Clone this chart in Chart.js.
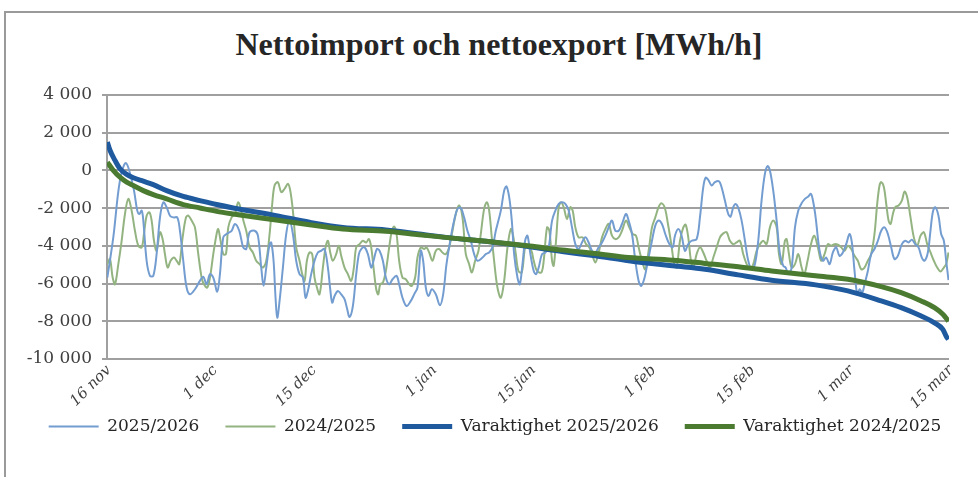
<!DOCTYPE html>
<html>
<head>
<meta charset="utf-8">
<script src="https://cdn.jsdelivr.net/npm/chart.js@4/dist/chart.umd.min.js"></script>
<style>
  body { margin: 0; background: #fff; }
  #wrap { position: relative; width: 978px; height: 477px; overflow: hidden; }
  #frame { position: absolute; left: 4px; top: 11px; width: 1100px; height: 600px;
           border-top: 2px solid #9a9a9a; border-left: 2px solid #9a9a9a; }
  #title { position: absolute; left: 0; top: 28px; width: 998px; text-align: center;
           font: bold 32px/32px 'Liberation Serif', serif; color: #262626; white-space: nowrap; }
  #chart { position: absolute; left: 0; top: 0; }
</style>
</head>
<body>
<div id="wrap">
  <div id="frame"></div>
  <div id="title">Nettoimport och nettoexport [MWh/h]</div>
  <canvas id="chart" width="978" height="477"></canvas>
</div>
<script>
// x = days after 16 nov
const tickDays   = [0, 15, 29, 46, 60, 77, 91, 105, 119];
const tickLabels = ['16 nov', '1 dec', '15 dec', '1 jan', '15 jan', '1 feb', '15 feb', '1 mar', '15 mar'];
const yTicks     = [-10000, -8000, -6000, -4000, -2000, 0, 2000, 4000];

// 2025/2026 net import/export
const days26 = [0.05,0.89,1.83,2.68,3.72,4.28,4.57,4.90,5.13,5.60,6.07,6.54,7.01,7.49,7.96,8.43,8.90,9.37,9.93,10.31,
  10.78,11.25,11.72,12.43,13.13,13.61,14.08,14.55,15.02,15.58,15.96,16.43,16.90,17.61,18.08,18.69,19.25,19.68,20.15,20.86,
  21.33,21.80,22.13,22.51,22.98,23.21,23.54,23.82,24.06,24.39,24.86,25.33,25.80,26.27,26.74,27.21,27.68,28.06,28.39,28.86,
  29.33,29.80,30.27,30.74,31.22,31.55,31.83,32.16,32.63,33.10,33.57,33.90,34.28,34.75,35.22,35.60,35.93,36.40,36.87,37.34,
  37.67,38.14,38.52,38.99,39.41,39.88,40.35,40.92,41.29,41.76,42.33,42.94,43.41,43.88,44.35,44.68,45.06,45.44,45.91,46.47,
  47.04,47.51,47.98,48.59,49.06,49.53,50.00,50.47,50.94,51.42,51.89,52.36,53.07,53.54,54.01,54.48,54.95,55.66,56.13,56.46,
  56.84,57.21,57.54,58.01,58.34,58.72,59.09,59.42,59.84,60.31,60.64,61.01,61.48,61.95,62.42,62.90,63.37,63.84,64.31,64.78,
  65.25,65.72,66.19,66.66,67.13,67.60,68.07,68.55,69.02,69.49,69.96,70.43,70.90,71.37,71.84,72.31,72.78,73.35,73.72,74.20,
  74.67,75.14,75.51,75.98,76.45,77.02,77.49,77.96,78.43,78.90,79.37,79.94,80.27,80.74,81.21,81.68,82.15,82.62,83.33,83.80,
  84.27,84.60,84.98,85.45,85.92,86.49,86.86,87.33,87.80,88.13,88.51,88.84,89.22,89.69,90.16,90.63,91.10,91.57,92.04,92.51,
  92.98,93.36,93.69,94.16,94.64,95.11,95.58,95.91,96.29,96.76,97.23,97.70,98.17,98.64,99.11,99.49,99.82,100.15,100.71,101.18,
  101.65,102.12,102.59,103.06,103.53,104.00,104.47,104.94,105.27,105.65,106.03,106.36,106.73,107.06,107.53,108.00,108.47,108.95,109.42,109.89,
  110.36,110.83,111.30,111.77,112.34,112.81,113.28,113.75,114.22,114.69,115.16,115.54,116.01,116.38,116.71,117.04,117.51,117.89,118.27,118.60,
  118.93];
const net26 = [-5680,-3550,-530,390,-890,-2130,-2310,-2130,-2660,-4790,-5590,-5590,-4440,-2490,-1690,-1950,-2400,-2490,-2490,-3200,
  -4790,-6210,-6570,-6300,-5860,-5640,-6040,-5500,-5680,-6430,-5500,-3550,-3370,-3200,-2840,-3200,-4080,-4170,-3280,-3200,
  -3460,-5150,-6120,-5150,-3910,-3820,-4790,-6750,-7810,-6920,-5150,-3370,-2660,-3370,-4790,-5500,-5680,-6750,-6390,-5500,
  -4790,-4350,-4260,-4170,-5150,-6300,-7010,-6660,-6390,-6570,-6830,-7280,-7770,-7190,-5500,-4440,-4170,-4080,-4440,-5150,
  -4790,-4170,-4260,-4790,-5680,-6040,-5770,-5590,-6040,-6750,-7190,-6920,-6570,-6210,-4260,-4790,-6210,-6660,-6300,-6570,
  -7150,-6570,-4970,-3550,-2660,-2040,-1990,-2490,-3200,-3730,-4440,-4790,-4620,-4440,-4350,-4080,-3200,-2130,-1070,-850,
  -1420,-2660,-4440,-5680,-6040,-4970,-3730,-3460,-4440,-5330,-5500,-5150,-4440,-4350,-4080,-2660,-2130,-1780,-1690,-1780,
  -2130,-3020,-3910,-4170,-3820,-3550,-3820,-4260,-4350,-4080,-3820,-3460,-3020,-2660,-3200,-3200,-2840,-2310,-2660,-3370,
  -4790,-5860,-6120,-5680,-4790,-3730,-2930,-2660,-2840,-3370,-3820,-4080,-3460,-3110,-3460,-4260,-3910,-3730,-3640,-2490,
  -890,-390,-500,-800,-620,-570,-890,-1600,-2310,-2450,-1950,-1780,-1990,-2660,-3730,-4790,-5240,-4970,-3730,-1600,
  -180,230,0,-1070,-2660,-4440,-5060,-5150,-5500,-5150,-3020,-2130,-1740,-1510,-1380,-1240,-1690,-2490,-4260,-4790,
  -4620,-4970,-4350,-4080,-4530,-4350,-3910,-3370,-3820,-5330,-6570,-6300,-6480,-6040,-5330,-4440,-4170,-3730,-3200,-3020,
  -3370,-4080,-4700,-4530,-3910,-3730,-3820,-3670,-3910,-4080,-4620,-4790,-4350,-3200,-2220,-1950,-2400,-3370,-3730,-4790,
  -5820];

// 2024/2025 net import/export
const days25 = [0.05,0.42,0.80,1.13,1.60,2.07,2.54,3.01,3.48,3.95,4.42,4.90,5.22,5.60,5.98,6.31,6.64,7.01,7.49,7.86,
  8.19,8.57,8.99,9.46,9.84,10.22,10.69,11.16,11.49,11.96,12.43,12.90,13.37,13.70,14.17,14.55,15.02,15.49,15.72,16.05,
  16.43,16.81,17.14,17.61,18.08,18.55,19.02,19.30,19.68,20.15,20.62,21.09,21.56,22.03,22.51,22.98,23.35,23.68,24.15,24.62,
  25.09,25.57,25.90,26.27,26.74,27.21,27.59,27.92,28.25,28.63,29.00,29.33,29.67,30.04,30.51,30.89,31.22,31.55,31.92,32.39,
  32.77,33.10,33.57,34.04,34.51,34.89,35.22,35.69,36.16,36.63,37.01,37.34,37.67,38.05,38.33,38.61,38.99,39.41,39.88,40.26,
  40.59,40.92,41.29,41.76,42.23,42.71,43.08,43.55,43.88,44.35,44.82,45.15,45.53,46.00,46.47,46.94,47.41,47.88,48.36,48.83,
  49.30,49.77,50.24,50.71,51.18,51.56,52.03,52.50,52.83,53.30,53.68,54.01,54.38,54.71,55.18,55.66,56.13,56.60,57.07,57.40,
  57.78,58.15,58.62,59.09,59.42,59.98,60.31,60.78,61.39,61.72,62.19,62.52,62.90,63.13,63.46,63.84,64.17,64.54,65.01,65.48,
  65.81,66.19,66.66,67.23,67.70,68.17,68.55,69.02,69.49,69.96,70.43,70.90,71.37,71.84,72.31,72.78,73.35,73.82,74.29,74.76,
  75.14,75.61,76.08,76.55,77.02,77.49,77.96,78.34,78.81,79.28,79.75,80.18,80.51,80.98,81.45,81.78,82.15,82.53,82.86,83.33,
  83.80,84.27,84.74,85.22,85.69,86.16,86.63,87.10,87.57,88.04,88.51,88.98,89.45,89.92,90.40,90.87,91.34,91.81,92.28,92.75,
  93.22,93.69,94.16,94.64,94.97,95.34,95.81,96.05,96.38,96.76,97.23,97.70,98.17,98.54,99.01,99.49,99.96,100.47,100.94,101.41,
  101.88,102.35,102.82,103.30,103.77,104.24,104.71,105.18,105.65,106.12,106.59,107.06,107.53,108.00,108.47,108.85,109.18,109.42,109.80,110.13,
  110.46,110.74,111.07,111.40,111.87,112.34,112.71,113.09,113.56,114.03,114.50,114.98,115.45,115.92,116.39,116.86,117.33,117.80,118.27,118.60,
  118.93];
const net25 = [-4970,-4700,-5680,-6040,-4970,-3730,-2310,-1510,-2130,-3200,-3990,-4080,-3370,-2400,-2220,-2660,-3730,-4260,-3280,-3640,
  -4440,-5150,-4790,-4620,-4790,-4970,-3550,-2490,-2400,-2660,-3020,-4440,-5680,-6040,-6210,-5680,-4440,-3370,-3110,-3730,
  -4440,-4440,-3020,-2490,-2310,-1690,-2220,-2700,-3200,-4080,-4350,-4790,-4970,-5150,-4790,-3370,-1780,-800,-620,-1150,
  -980,-710,-1070,-2130,-4080,-4790,-5500,-5860,-4790,-4350,-4440,-5680,-6210,-6570,-5150,-4080,-3730,-4350,-4790,-4440,
  -3990,-4530,-5150,-5500,-5860,-5150,-4080,-3910,-3730,-3820,-3640,-4080,-5150,-6300,-6570,-6040,-5950,-5330,-4080,-3200,
  -2980,-3370,-4790,-5680,-5770,-6040,-6120,-5680,-4620,-4080,-4170,-4080,-4350,-4790,-4260,-4170,-4350,-4440,-4080,-3200,
  -2310,-1860,-2490,-4440,-4970,-5410,-4790,-4260,-3370,-2040,-1690,-2130,-3550,-4790,-6210,-6750,-5860,-4080,-3110,-3460,
  -4440,-5330,-5410,-4080,-3990,-4260,-4790,-5330,-5410,-4790,-3020,-3200,-4790,-5060,-3730,-1950,-1690,-1950,-2570,-1950,
  -2130,-3020,-3550,-3550,-3910,-4080,-4440,-4880,-4350,-3550,-3110,-2840,-3460,-3640,-3550,-3200,-2660,-3020,-3370,-3460,
  -4080,-4790,-5240,-4260,-3020,-2490,-1950,-1740,-1950,-2840,-3910,-4970,-5150,-3730,-3020,-2880,-3550,-4790,-5150,-4440,
  -4080,-4350,-4790,-5150,-4620,-4080,-3550,-3340,-3280,-3730,-3910,-3820,-3730,-4440,-4970,-5240,-4970,-4260,-3910,-3730,
  -3910,-3020,-2660,-3020,-4440,-4970,-3730,-3640,-4440,-5150,-4970,-4440,-5150,-5500,-4790,-3910,-3460,-4080,-4790,-4440,
  -3910,-3990,-3910,-3940,-4080,-4260,-3990,-4170,-4530,-4790,-5240,-5150,-4790,-4440,-3370,-1780,-800,-620,-890,-1780,
  -2660,-2840,-2310,-1950,-1860,-1600,-1120,-1420,-2490,-3550,-3990,-3460,-3280,-3910,-4350,-4790,-5150,-5360,-5150,-4970,
  -4350];

// duration curves (sorted values)
const durDays26 = [0.05,0.42,1.13,1.83,2.78,3.72,5.13,6.54,8.43,10.78,13.13,15.49,17.84,23.92,28.63,33.33,39.41,44.12,48.83,53.54,
  59.75,64.31,69.02,73.72,79.94,84.51,89.22,93.92,100.15,104.71,109.42,112.24,115.07,116.95,118.13,118.60,118.93];
const dur26 = [1500,1070,530,90,-210,-390,-570,-750,-1070,-1380,-1600,-1810,-1990,-2400,-2750,-3020,-3160,-3370,-3590,-3760,
  -4050,-4300,-4530,-4790,-5060,-5240,-5540,-5820,-6070,-6390,-6920,-7280,-7720,-8080,-8430,-8790,-8960];
const durDays25 = [0.05,0.89,1.83,2.78,3.72,5.13,6.54,8.43,10.78,13.13,15.49,17.84,23.92,28.63,33.33,39.41,44.12,48.83,53.54,59.75,
  64.31,69.02,73.72,79.94,84.51,89.22,93.92,100.15,104.71,109.42,112.24,115.07,116.95,118.13,118.93];
const dur25 = [440,0,-360,-620,-800,-1070,-1280,-1510,-1810,-1990,-2170,-2310,-2630,-2880,-3110,-3230,-3410,-3590,-3760,-4010,
  -4220,-4400,-4620,-4760,-4930,-5110,-5330,-5590,-5770,-6160,-6480,-6920,-7280,-7630,-7990];

const pts = (xs, ys) => xs.map((x, i) => ({x, y: ys[i]}));
const fmt = v => (v < 0 ? '-' : '') + String(Math.abs(v)).replace(/\B(?=(\d{3})+(?!\d))/g, ' ');

const serif = 'DejaVu Serif';

// date labels at 45 degrees, text ending at the tick
const dateLabels = {
  id: 'dateLabels',
  afterDraw(chart) {
    const {ctx, chartArea, scales: {x}} = chart;
    ctx.save();
    ctx.font = 'italic 15px "DejaVu Serif"';
    ctx.fillStyle = '#404040';
    ctx.textAlign = 'right';
    ctx.textBaseline = 'middle';
    tickDays.forEach((d, i) => {
      ctx.save();
      ctx.translate(x.getPixelForValue(d) + 2, chartArea.bottom + 9);
      ctx.rotate(-Math.PI / 4);
      ctx.fillText(tickLabels[i], 0, 0);
      ctx.restore();
    });
    ctx.restore();
  }
};

new Chart(document.getElementById('chart').getContext('2d'), {
  type: 'line',
  data: {
    datasets: [
      {label: '2025/2026', data: pts(days26, net26), borderColor: '#739dd0', borderWidth: 2,
       pointRadius: 0, tension: 0.35, order: 2},
      {label: '2024/2025', data: pts(days25, net25), borderColor: '#93b481', borderWidth: 2,
       pointRadius: 0, tension: 0.35, order: 3},
      {label: 'Varaktighet 2025/2026', data: pts(durDays26, dur26), borderColor: '#1f5a9f', borderWidth: 5,
       pointRadius: 0, cubicInterpolationMode: 'monotone', order: 1},
      {label: 'Varaktighet 2024/2025', data: pts(durDays25, dur25), borderColor: '#4b7b30', borderWidth: 5,
       pointRadius: 0, cubicInterpolationMode: 'monotone', order: 0},
    ]
  },
  plugins: [dateLabels],
  options: {
    responsive: false,
    animation: false,
    devicePixelRatio: 1,
    layout: {padding: {left: 20, right: 8, top: 95, bottom: 32}},
    plugins: {
      title: {display: false},
      legend: {
        position: 'bottom',
        labels: {
          usePointStyle: true, pointStyle: 'line', pointStyleWidth: 50,
          color: '#262626', font: {family: serif, size: 17}, padding: 26,
          sort: (a, b) => a.datasetIndex - b.datasetIndex
        }
      },
      tooltip: {enabled: false}
    },
    scales: {
      x: {
        type: 'linear', min: 0, max: 119,
        afterBuildTicks: axis => { axis.ticks = tickDays.map(v => ({value: v})); },
        afterFit: axis => { axis.height = 33; },
        grid: {display: false},
        border: {display: false},
        ticks: {display: false}
      },
      y: {
        min: -10000, max: 4000,
        afterBuildTicks: axis => { axis.ticks = yTicks.map(v => ({value: v})); },
        afterFit: axis => { axis.width = 87; },
        grid: {color: '#a0a0a0', lineWidth: 2, tickLength: 5},
        border: {display: true, color: '#a0a0a0', width: 2},
        ticks: {
          padding: 10, color: '#404040', font: {family: serif, size: 17},
          callback: v => fmt(v)
        }
      },
      // empty box on the right so the plot ends where the reference does
      yR: {
        type: 'linear', position: 'right',
        afterFit: axis => { axis.width = 21; },
        grid: {display: false},
        border: {display: false},
        ticks: {display: false}
      }
    }
  }
});
</script>
</body>
</html>
